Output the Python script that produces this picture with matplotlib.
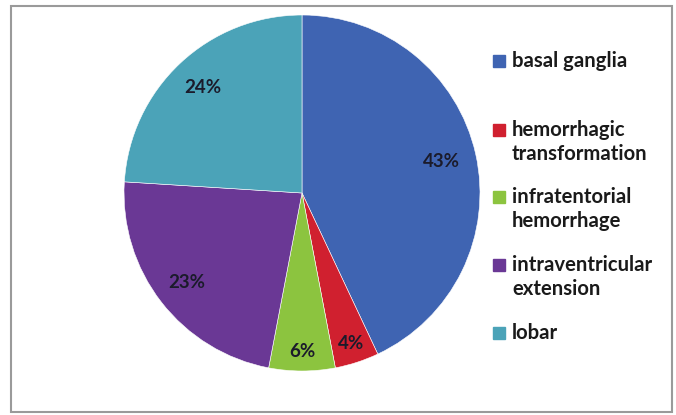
import numpy as np
import matplotlib.pyplot as plt
from matplotlib.patches import Rectangle

plt.rcParams['font.family'] = ['Lato', 'DejaVu Sans']

labels = ['basal ganglia', 'hemorrhagic\ntransformation', 'infratentorial\nhemorrhage',
          'intraventricular\nextension', 'lobar']
values = [43, 4, 6, 23, 24]
colors = ['#3f64b2', '#d0202f', '#8cc43f', '#6a3895', '#4ba3b8']

W, H = 676, 415
fig = plt.figure(figsize=(W / 100, H / 100), dpi=100)
ax = fig.add_axes([0, 0, 1, 1])
ax.set_xlim(0, W)
ax.set_ylim(0, H)
ax.set_aspect('equal')
ax.axis('off')

# chart border
ax.add_patch(Rectangle((11, H - 412), 661, 406, fill=False, edgecolor='#9a9a9a', lw=1.5))

cx, cy, r = 302, H - 193, 178
wedges, _ = ax.pie(values, colors=colors, startangle=90, counterclock=False,
                   center=(cx, cy), radius=r, frame=True,
                   wedgeprops=dict(edgecolor='white', linewidth=0.4))
ax.set_xlim(0, W)
ax.set_ylim(0, H)
ax.axis('off')

# percentage labels (distance from centre as a fraction of radius)
dist = [0.80, 0.89, 0.89, 0.82, 0.81]
for w, v, d in zip(wedges, values, dist):
    a = np.deg2rad((w.theta1 + w.theta2) / 2)
    ax.text(cx + d * r * np.cos(a), cy + d * r * np.sin(a), '%d%%' % v,
            ha='center', va='center', fontsize=13.5, fontweight='bold', color='#1b1b2b')

# legend
ys = [61, 130, 197, 265, 333]
for lab, col, y in zip(labels, colors, ys):
    ax.add_patch(Rectangle((493, H - y - 6), 12, 12, color=col))
    ax.text(512, H - y + 10, lab, ha='left', va='top', fontsize=14.6, fontweight='bold',
            color='#1a1a1a', linespacing=1.28)

fig.savefig('out.png', dpi=100)
